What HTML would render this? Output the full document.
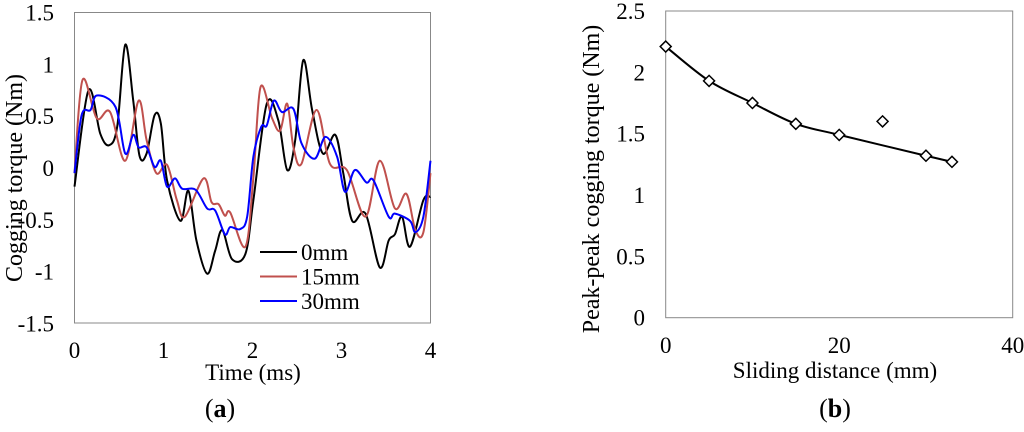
<!DOCTYPE html>
<html><head><meta charset="utf-8"><style>
body{margin:0;background:#fff}
svg{display:block;font-family:"Liberation Serif",serif}
</style></head><body>
<svg id="s" width="1024" height="432" xmlns="http://www.w3.org/2000/svg"></svg>
<script>
const tA=[0,0.157,0.29,0.39,0.48,0.57,0.66,0.73,0.81,0.9,0.97,1.04,1.19,1.28,1.37,1.49,1.58,1.66,1.77,1.92,2.01,2.16,2.29,2.39,2.48,2.57,2.67,2.79,2.93,3.02,3.12,3.27,3.43,3.53,3.6,3.68,3.77,3.92,4];
const vA=[-0.18,0.75,0.33,0.22,0.40,1.19,0.65,0.12,0.14,0.51,0.43,-0.12,-0.51,-0.22,-0.70,-1.02,-0.80,-0.60,-0.88,-0.83,-0.31,0.62,0.46,-0.02,0.27,1.04,0.56,0.14,0.32,-0.05,-0.51,-0.44,-0.96,-0.70,-0.64,-0.47,-0.76,-0.31,-0.28];
const tB=[0,0.09,0.25,0.4,0.57,0.72,0.81,0.92,1.04,1.15,1.24,1.45,1.54,1.62,1.69,1.75,1.92,2.01,2.09,2.22,2.31,2.39,2.46,2.55,2.72,2.87,3.06,3.27,3.43,3.6,3.73,3.83,3.92,4];
const vB=[-0.05,0.85,0.48,0.54,0.07,0.65,0.27,-0.05,0.03,-0.31,-0.47,-0.10,-0.33,-0.35,-0.46,-0.43,-0.76,-0.09,0.78,0.48,0.36,0.62,0.20,0.04,0.56,0.04,-0.02,-0.47,0.07,-0.39,-0.25,-0.60,-0.62,-0.05];
const tC=[0,0.08,0.18,0.25,0.46,0.57,0.66,0.72,0.81,0.9,0.97,1.04,1.13,1.21,1.36,1.49,1.58,1.69,1.75,1.86,1.94,2.01,2.1,2.16,2.24,2.33,2.46,2.55,2.7,2.82,2.95,3.04,3.15,3.28,3.36,3.53,3.6,3.77,3.83,3.92,4];
const vC=[-0.05,0.51,0.56,0.70,0.59,0.14,0.32,0.20,0.20,0.01,0.07,-0.18,-0.10,-0.20,-0.21,-0.39,-0.41,-0.64,-0.57,-0.59,-0.47,0.11,0.40,0.41,0.65,0.54,0.57,0.24,0.09,0.30,0.11,-0.23,-0.02,-0.14,-0.12,-0.47,-0.44,-0.51,-0.62,-0.47,0.07];
const seriesNames=["0mm","15mm","30mm"];
const xTicksA=[0,1,2,3,4];
const yTicksA=[-1.5,-1,-0.5,0,0.5,1,1.5];
const distB=[0,5,10,15,20,25,30,33];
const ppB=[2.21,1.93,1.75,1.58,1.49,1.60,1.32,1.27];
const fitX=[0,5,10,15,20,30,33];
const fitY=[2.21,1.93,1.75,1.58,1.49,1.32,1.27];
const xTicksB=[0,20,40];
const yTicksB=[0,0.5,1,1.5,2,2.5];

const S=document.getElementById('s');const NS="http://www.w3.org/2000/svg";
function mk(tag,at,txt){const e=document.createElementNS(NS,tag);for(const k in at)e.setAttribute(k,at[k]);if(txt!=null)e.textContent=txt;S.appendChild(e);return e;}
function smooth(pts){let d="M"+pts[0][0]+","+pts[0][1];for(let i=0;i<pts.length-1;i++){const p0=pts[i-1]||pts[i],p1=pts[i],p2=pts[i+1],p3=pts[i+2]||p2;
d+=" C"+(p1[0]+(p2[0]-p0[0])/6)+","+(p1[1]+(p2[1]-p0[1])/6)+" "+(p2[0]-(p3[0]-p1[0])/6)+","+(p2[1]-(p3[1]-p1[1])/6)+" "+p2[0]+","+p2[1];}return d;}
// chart A
const ax=t=>74.5+t*89, ay=v=>168-v*103.6;
let e=mk('rect',{x:74.5,y:12.5,width:356,height:310.5,fill:'none',stroke:'#888','stroke-width':1});

yTicksA.forEach(v=>{e=mk('text',{x:54,y:ay(v)+8,'text-anchor':'end','font-size':23},String(v));});
xTicksA.forEach(v=>{e=mk('text',{x:ax(v),y:358,'text-anchor':'middle','font-size':23},String(v));});
const cols=['#000','#c0504d','#0000ff'];
[[tA,vA],[tB,vB],[tC,vC]].forEach((s,i)=>{e=mk('path',{d:smooth(s[0].map((t,j)=>[ax(t),ay(s[1][j])])),fill:'none',stroke:cols[i],'stroke-width':2});
});
seriesNames.forEach((n,i)=>{const y=252+i*24.5;e=mk('line',{x1:260,x2:297,y1:y,y2:y,stroke:cols[i],'stroke-width':2});
e=mk('text',{x:301,y:y+8,'font-size':23},n);});
e=mk('text',{x:253,y:380,'text-anchor':'middle','font-size':23},'Time (ms)');
e=mk('text',{transform:'translate(22,178) rotate(-90)','text-anchor':'middle','font-size':24},'Cogging torque (Nm)');
e=mk('text',{x:220,y:417,'text-anchor':'middle','font-size':26},'');
e.innerHTML='(<tspan font-weight="bold">a</tspan>)';
// chart B
const bx=d=>665.7+d*8.675, by=v=>317.7-v*122.7;
e=mk('rect',{x:665.7,y:11,width:347,height:306.7,fill:'none',stroke:'#888','stroke-width':1});
yTicksB.forEach(v=>{e=mk('text',{x:645,y:by(v)+8,'text-anchor':'end','font-size':23},String(v));});
xTicksB.forEach(v=>{e=mk('text',{x:bx(v),y:353,'text-anchor':'middle','font-size':23},String(v));});
e=mk('path',{d:smooth(fitX.map((x,i)=>[bx(x),by(fitY[i])])),fill:'none',stroke:'#000','stroke-width':2});
distB.forEach((x,i)=>{const cx=bx(x),cy=by(ppB[i]);e=mk('path',{d:`M${cx-5.5},${cy} L${cx},${cy-5.5} L${cx+5.5},${cy} L${cx},${cy+5.5} Z`,fill:'#fff',stroke:'#000','stroke-width':1.5});});
e=mk('text',{x:835,y:378,'text-anchor':'middle','font-size':23},'Sliding distance (mm)');
e=mk('text',{transform:'translate(599,179) rotate(-90)','text-anchor':'middle','font-size':24},'Peak-peak cogging torque (Nm)');
e=mk('text',{x:835,y:417,'text-anchor':'middle','font-size':26},'');
e.innerHTML='(<tspan font-weight="bold">b</tspan>)';
</script>
</body></html>
